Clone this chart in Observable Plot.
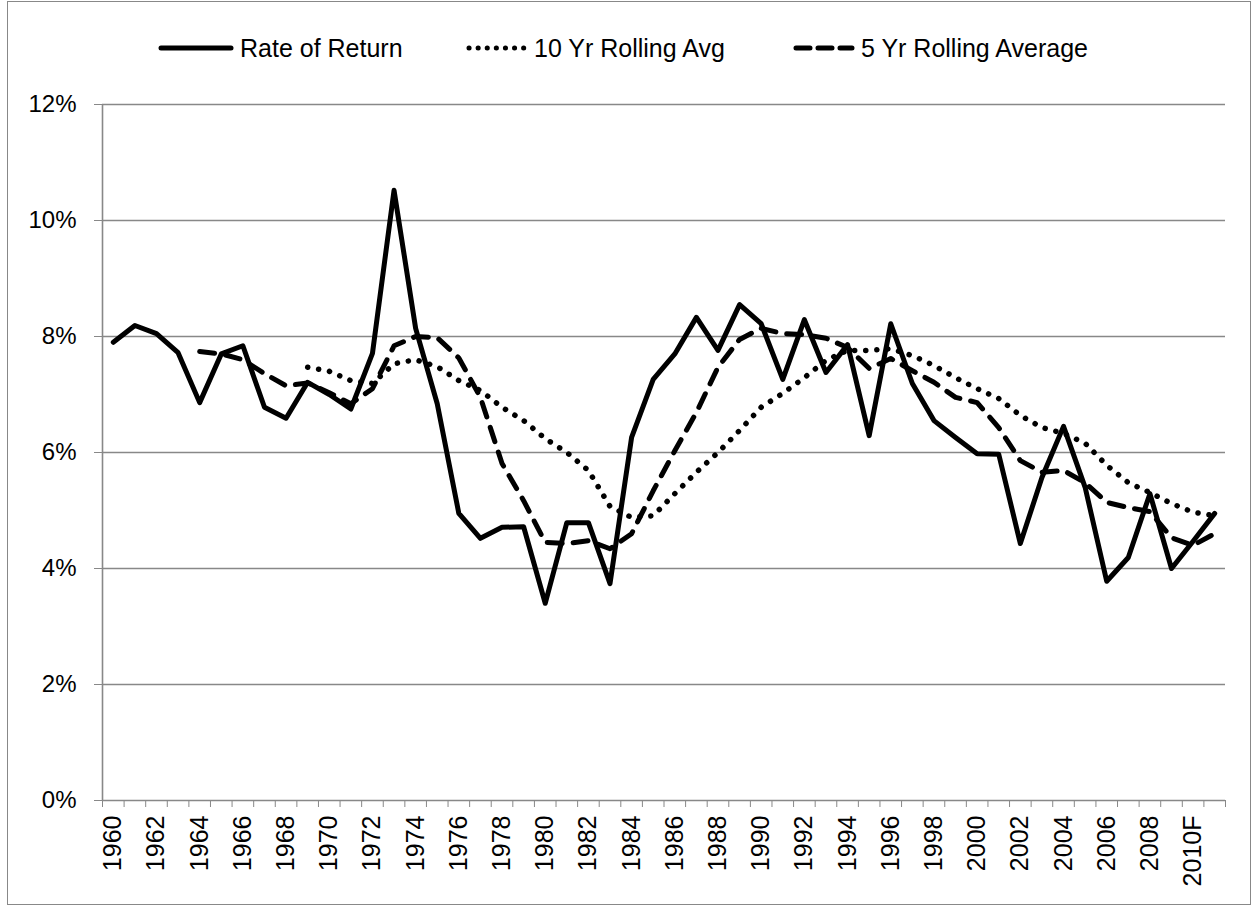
<!DOCTYPE html>
<html>
<head>
<meta charset="utf-8">
<script src="https://cdn.jsdelivr.net/npm/d3@7"></script>
<script src="https://cdn.jsdelivr.net/npm/@observablehq/plot@0.6"></script>
<style>
  html, body { margin: 0; padding: 0; background: #fff; }
  #wrap { position: relative; width: 1253px; height: 907px; overflow: hidden; font-family: "Liberation Sans", Arial, sans-serif; }
  #frame { position: absolute; left: 7px; top: 1px; width: 1244px; height: 904px; border: 1px solid #888; box-sizing: border-box; pointer-events: none; }
  #chart { position: absolute; left: 0; top: 0; }
  .leg { position: absolute; top: 33px; height: 30px; display: flex; align-items: center; font-size: 25px; color: #000; white-space: nowrap; }
  .leg svg { margin-right: 6px; }
</style>
</head>
<body>
<div id="wrap">
  <div id="chart"></div>
  <div id="frame"></div>
</div>
<script>
// ---- data ----
const categories = ["1960","1961","1962","1963","1964","1965","1966","1967","1968","1969",
  "1970","1971","1972","1973","1974","1975","1976","1977","1978","1979",
  "1980","1981","1982","1983","1984","1985","1986","1987","1988","1989",
  "1990","1991","1992","1993","1994","1995","1996","1997","1998","1999",
  "2000","2001","2002","2003","2004","2005","2006","2007","2008","2009",
  "2010F","2011F"];

const rateOfReturn = [7.90,8.19,8.05,7.72,6.86,7.70,7.84,6.78,6.59,7.21,
  7.00,6.75,7.71,10.52,8.14,6.84,4.95,4.52,4.71,4.72,
  3.40,4.79,4.79,3.74,6.26,7.26,7.70,8.33,7.76,8.55,
  8.22,7.26,8.29,7.38,7.86,6.29,8.22,7.19,6.55,6.26,
  5.98,5.97,4.43,5.57,6.45,5.40,3.78,4.19,5.29,4.00,
  4.47,4.95];

// 10 Yr Rolling Avg: starts at 1969
const tenYrAvg = [null,null,null,null,null,null,null,null,null,7.47,
  7.40,7.24,7.19,7.53,7.60,7.48,7.24,7.07,6.78,6.55,
  6.24,6.00,5.69,5.07,4.88,4.91,5.29,5.66,6.00,6.38,
  6.78,7.02,7.29,7.59,7.76,7.76,7.79,7.67,7.50,7.29,
  7.10,6.93,6.64,6.43,6.33,6.16,5.78,5.48,5.31,5.12,
  4.97,4.91];

// 5 Yr Rolling Average: starts at 1964
const fiveYrAvg = [null,null,null,null,7.74,7.70,7.60,7.36,7.15,7.20,
  7.03,6.84,7.10,7.84,8.00,7.98,7.63,6.95,5.81,5.17,
  4.45,4.43,4.48,4.34,4.60,5.34,6.03,6.69,7.47,7.95,
  8.14,8.05,8.03,7.97,7.81,7.45,7.62,7.41,7.21,6.95,
  6.86,6.43,5.86,5.66,5.69,5.48,5.14,5.05,4.98,4.53,
  4.40,4.60];

const seriesNames = ["Rate of Return", "10 Yr Rolling Avg", "5 Yr Rolling Average"];
const yTicks = [0, 2, 4, 6, 8, 10, 12];

// ---- build ----
const idx = categories.map((_, i) => i);
const toRows = (arr) => arr.map((v, i) => ({i, v})).filter(d => d.v != null);
const rowsRoR = toRows(rateOfReturn);
const rows10 = toRows(tenYrAvg);
const rows5 = toRows(fiveYrAvg);
const boundaries = d3.range(-0.5, categories.length, 1);
const labelIdx = idx.filter(i => i % 2 === 0);

const chart = Plot.plot({
  width: 1253,
  height: 907,
  marginTop: 104,
  marginBottom: 107,
  marginLeft: 102,
  marginRight: 28,
  x: {type: "linear", domain: [-0.5, categories.length - 0.5]},
  y: {domain: [0, 12]},
  style: {fontFamily: "'Liberation Sans', Arial, sans-serif", fontSize: "24px", color: "#000", background: "transparent"},
  marks: [
    Plot.gridY(yTicks, {stroke: "#888", strokeOpacity: 1, strokeWidth: 1.6}),
    Plot.ruleX([-0.5], {stroke: "#888", strokeWidth: 1.6}),
    Plot.axisY(yTicks, {tickFormat: d => d + "%", tickSize: 8, tickPadding: 18, stroke: "#888", label: null, fontSize: 24}),
    Plot.axisX(boundaries, {tickFormat: () => "", tickSize: 7, stroke: "#888", label: null}),
    Plot.axisX(labelIdx, {tickFormat: i => categories[i], tickSize: 0, tickPadding: 15, tickRotate: -90, label: null, fontSize: 25}),
    Plot.line(rows10, {x: "i", y: "v", stroke: "#000", strokeWidth: 5.5, strokeDasharray: "0.1 11", strokeLinecap: "round"}),
    Plot.line(rows5, {x: "i", y: "v", stroke: "#000", strokeWidth: 5, strokeDasharray: "15 11", strokeLinecap: "round", strokeLinejoin: "round"}),
    Plot.line(rowsRoR, {x: "i", y: "v", stroke: "#000", strokeWidth: 5, strokeLinejoin: "round"})
  ]
});
document.getElementById("chart").appendChild(chart);

// ---- legend ----
const wrap = document.getElementById("wrap");
const legendItems = [
  {name: seriesNames[0], left: 158, dash: null, width: 5},
  {name: seriesNames[1], left: 466, dash: "0.1 9", width: 5},
  {name: seriesNames[2], left: 793, dash: "14 8", width: 5}
];
legendItems.forEach(it => {
  const div = document.createElement("div");
  div.className = "leg";
  div.style.left = it.left + "px";
  const sw = it.name === seriesNames[0] ? 76 : 62;
  const svg = d3.create("svg").attr("width", sw).attr("height", 12);
  svg.append("line").attr("x1", 3).attr("x2", sw - 3).attr("y1", 6).attr("y2", 6)
    .attr("stroke", "#000").attr("stroke-width", it.width).attr("stroke-linecap", "round")
    .attr("stroke-dasharray", it.dash);
  div.appendChild(svg.node());
  const span = document.createElement("span");
  span.textContent = it.name;
  div.appendChild(span);
  wrap.appendChild(div);
});
</script>
</body>
</html>
